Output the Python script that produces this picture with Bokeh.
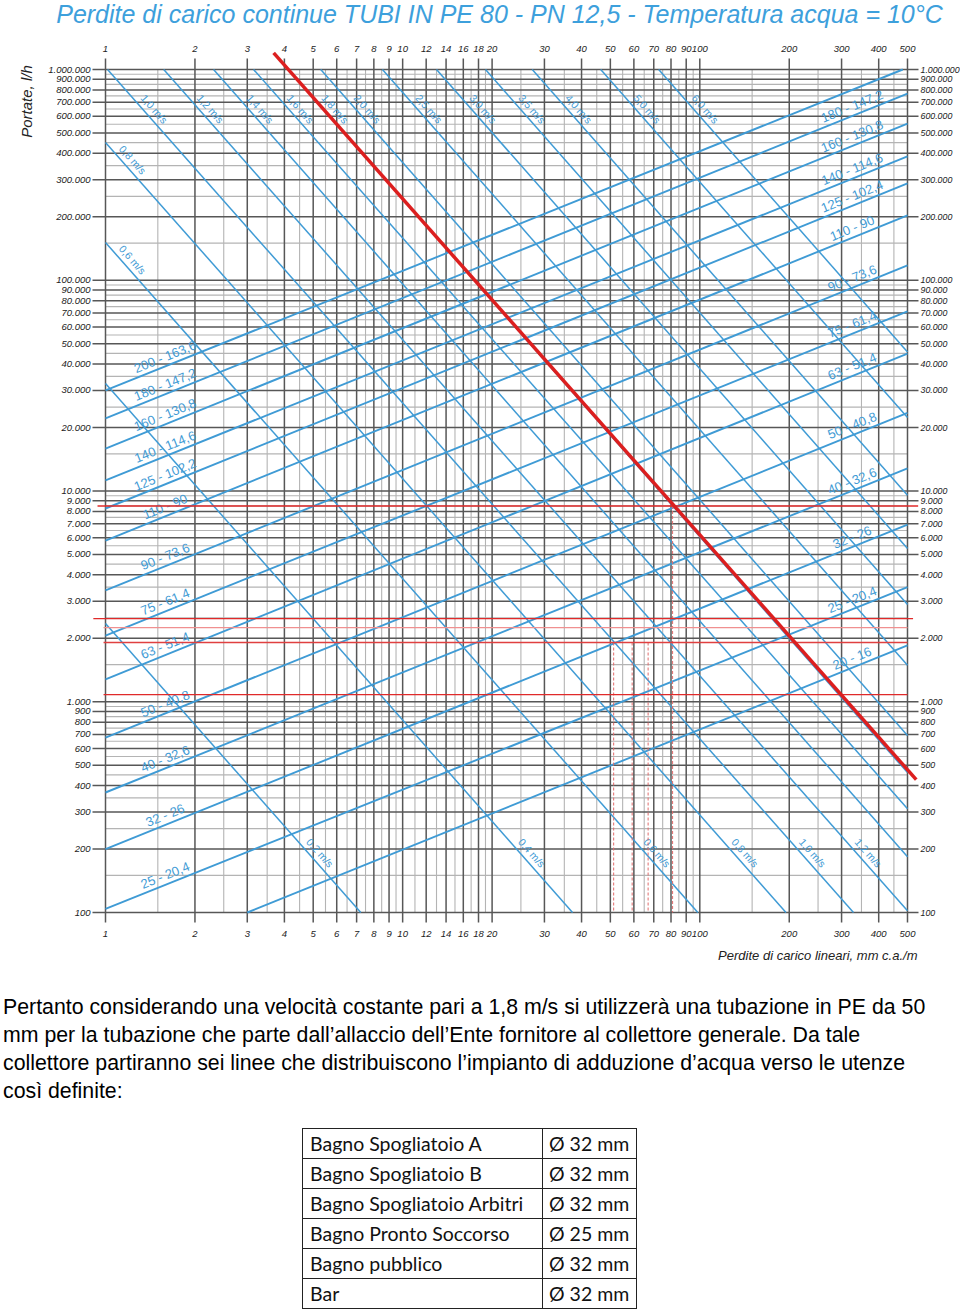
import math
from bokeh.plotting import figure
from bokeh.models import Range1d, Div
from bokeh.layouts import column
from bokeh.core.properties import value
from bokeh.embed import file_html
from bokeh.resources import INLINE

# ---------------- texts ----------------
TITLE = "Perdite di carico continue TUBI IN PE 80 - PN 12,5 - Temperatura acqua = 10°C"
Y_TITLE = "Portate, l/h"
X_TITLE = "Perdite di carico lineari, mm c.a./m"

# ---------------- axes / ticks ----------------
x_major = [1, 2, 3, 4, 5, 6, 7, 8, 9, 10, 12, 14, 16, 18, 20, 30, 40, 50, 60, 70, 80, 90, 100, 200, 300, 400, 500]
x_minor = [1.5, 2.5, 3.5, 4.5, 5.5, 6.5, 7.5, 8.5, 9.5, 11, 13, 15, 17, 19, 25, 35, 45, 55, 65, 75, 85, 95,
           150, 250, 350, 450]
x_labels = [str(v) for v in x_major]
y_major = [k * 10 ** e for e in (2, 3, 4, 5) for k in range(1, 10)] + [1000000]
y_minor = [k * 10 ** e + 10 ** e // 2 for e in (2, 3, 4, 5) for k in range(1, 10)]
y_labels = [f"{int(v):,}".replace(",", ".") for v in y_major]

# ---------------- pipe diameter lines (rising) ----------------
diam_J0 = [3, 1, 1, 1, 1, 1, 1, 1, 1, 1, 1, 1, 1, 1]
diam_Q0 = [100, 104, 200, 371, 676, 1276, 2060, 3375, 5820, 8260, 11220, 15900, 22100, 30000]
diam_J1 = [500, 500, 500, 500, 500, 500, 500, 500, 500, 500, 500, 500, 500, 482]
diam_Q1 = [1850, 3500, 6930, 12800, 23500, 44900, 71100, 117500, 203000, 288000, 387000, 554000, 769000, 1000000]
diam_left_labels = [None, "25 - 20,4", "32 - 26", "40 - 32,6", "50 - 40,8", "63 - 51,4", "75 - 61,4",
                    "90 - 73,6", "110 - 90", "125 - 102,2", "140 - 114,6", "160 - 130,8", "180 - 147,2",
                    "200 - 163,6"]
diam_right_labels = ["20 - 16", "25 - 20,4", "32 - 26", "40 - 32,6", "50 - 40,8", "63 - 51,4", "75 - 61,4",
                     "90 - 73,6", "110 - 90", "125 - 102,4", "140 - 114,6", "160 - 130,8", "180 - 147,2", None]

# ---------------- velocity lines (falling) ----------------
vel_names = ["0,2", "0,4", "0,6", "0,8", "1,0", "1,2", "1,4", "1,6", "1,8", "2,0", "2,5", "3,0", "3,5",
             "4,0", "5,0", "6,0"]
vel_J0 = [1, 1, 1, 1, 1.016, 1.57, 2.31, 3.15, 4.13, 5.3, 8.55, 13.0, 19.0, 27.3, 46.4, 72.7]
vel_Q0 = [2350, 32400, 151000, 451000, 1e6, 1e6, 1e6, 1e6, 1e6, 1e6, 1e6, 1e6, 1e6, 1e6, 1e6, 1e6]
vel_J1 = [7.23, 37.3, 98.5, 195, 329, 500, 500, 500, 500, 500, 500, 500, 500, 500, 500, 500]
vel_Q1 = [100, 100, 100, 100, 100, 102, 184, 311, 461, 692, 1490, 2890, 5340, 9550, 22300, 45700]
# labels: (line index, flow level where the label sits on the line)
vel_lab_idx = [4, 5, 6, 7, 8, 9, 10, 11, 12, 13, 14, 15, 3, 2, 0, 1, 2, 3, 4, 5]
vel_lab_Q = [610000] * 12 + [350000, 117500] + [180] * 6

# ---------------- red highlights ----------------
red_J = [3.68, 535]
red_Q = [1.2e6, 427]
redh_Q = [8490, 2480, 2250, 1910, 1080]
redh_J0 = [0.94, 0.91, 0.985, 0.985, 0.985]
redh_J1 = [543, 522, 500, 500, 500]
redh_col = ["#e02a2a", "#e02a2a", "#f09090", "#e04040", "#e02a2a"]
redv_J = [51.3, 59.2, 67.0, 81.0]
redv_Qtop = [1910, 1910, 1910, 8490]

# ---------------- text below ----------------
para_lines = [
    "Pertanto considerando una velocità costante pari a 1,8 m/s si utilizzerà una tubazione in PE da 50",
    "mm per la tubazione che parte dall’allaccio dell’Ente fornitore al collettore generale. Da tale",
    "collettore partiranno sei linee che distribuiscono l’impianto di adduzione d’acqua verso le utenze",
    "così definite:",
]
table_names = ["Bagno Spogliatoio A", "Bagno Spogliatoio B", "Bagno Spogliatoio Arbitri",
               "Bagno Pronto Soccorso", "Bagno pubblico", "Bar"]
table_diam = [32, 32, 32, 25, 32, 32]

# ================= layout constants =================
W, H = 960, 985
X0, KX = 105.0, 297.15   # px of J=1, px per decade
Y0, KY = 912.0, 210.75   # px of Q=100, px per decade
FONT = "Liberation Sans"
BLUE = "#3f9bd5"
DARK = "#575757"
LIGHT = "#b4b4b4"


def jx(px):
    return 10 ** ((px - X0) / KX)


def qy(py):
    return 10 ** (2 + (Y0 - py) / KY)


def pxj(J):
    return X0 + KX * math.log10(J)


def pyq(Q):
    return Y0 - KY * (math.log10(Q) - 2)


p = figure(width=W, height=H, x_axis_type="log", y_axis_type="log",
           x_range=Range1d(jx(0), jx(W)), y_range=Range1d(qy(H), qy(0)),
           x_axis_location=None, y_axis_location=None, title=None,
           output_backend="svg", toolbar_location=None, min_border=0)
p.outline_line_color = None
p.background_fill_color = "white"
p.border_fill_color = "white"
p.xgrid.visible = False
p.ygrid.visible = False

Jmin, Jmax, Qmin, Qmax = 1, 500, 100, 1000000

# grid minor
p.segment(x0=x_minor, y0=[Qmin] * len(x_minor), x1=x_minor, y1=[Qmax] * len(x_minor),
          line_color=LIGHT, line_width=1.1)
p.segment(x0=[Jmin] * len(y_minor), y0=y_minor, x1=[Jmax] * len(y_minor), y1=y_minor,
          line_color=LIGHT, line_width=1.1)
# grid major (extending as ticks)
qt, qb = qy(pyq(Qmax) - 11), qy(pyq(Qmin) + 10)
jl, jr = jx(pxj(Jmin) - 13), jx(pxj(Jmax) + 11)
p.segment(x0=x_major, y0=[qb] * len(x_major), x1=x_major, y1=[qt] * len(x_major),
          line_color=DARK, line_width=1.5)
p.segment(x0=[jl] * len(y_major), y0=y_major, x1=[jr] * len(y_major), y1=y_major,
          line_color=DARK, line_width=1.5)

# tick labels
tick_style = dict(text_font=value(FONT), text_font_style="italic",
                  text_color="#222222", text_baseline="middle")
p.text(x=x_major, y=[qy(pyq(Qmax) - 21)] * len(x_major), text=x_labels, text_align="center",
       text_font_size=value("9.5px"), **tick_style)
p.text(x=x_major, y=[qy(pyq(Qmin) + 21)] * len(x_major), text=x_labels, text_align="center",
       text_font_size=value("9.5px"), **tick_style)
p.text(x=[jx(pxj(Jmin) - 15)] * len(y_major), y=y_major, text=y_labels, text_align="right",
       text_font_size=value("9.5px"), **tick_style)
p.text(x=[jx(pxj(Jmax) + 13)] * len(y_major), y=y_major, text=y_labels, text_align="left",
       text_font_size=value("8.8px"), **tick_style)

# blue lines
p.segment(x0=diam_J0, y0=diam_Q0, x1=diam_J1, y1=diam_Q1, line_color=BLUE, line_width=1.9)
p.segment(x0=vel_J0, y0=vel_Q0, x1=vel_J1, y1=vel_Q1, line_color=BLUE, line_width=1.5)


def label_pos(J0, Q0, J1, Q1, J=None, Q=None, off=9.0):
    x0, y0, x1, y1 = pxj(J0), pyq(Q0), pxj(J1), pyq(Q1)
    L = math.hypot(x1 - x0, y1 - y0)
    dx, dy = (x1 - x0) / L, (y1 - y0) / L
    if J is not None:
        px = pxj(J)
        py = y0 + (px - x0) * (y1 - y0) / (x1 - x0)
    else:
        py = pyq(Q)
        px = x0 + (py - y0) * (x1 - x0) / (y1 - y0)
    cx, cy = px + off * dy, py - off * dx
    return jx(cx), qy(cy), -math.atan2(y1 - y0, x1 - x0)


lab_x, lab_y, lab_a, lab_t = [], [], [], []
for i in range(len(diam_J0)):
    for txt, jpos in ((diam_left_labels[i], jx(168)), (diam_right_labels[i], jx(855))):
        if txt is None:
            continue
        x, y, a = label_pos(diam_J0[i], diam_Q0[i], diam_J1[i], diam_Q1[i], J=jpos)
        lab_x.append(x); lab_y.append(y); lab_a.append(a); lab_t.append(txt)
p.text(x=lab_x, y=lab_y, angle=lab_a, text=lab_t, text_font=value(FONT), text_font_size=value("13px"),
       text_color=BLUE, text_align="center", text_baseline="middle")

vx, vy, va, vt = [], [], [], []
for i, q in zip(vel_lab_idx, vel_lab_Q):
    x, y, a = label_pos(vel_J0[i], vel_Q0[i], vel_J1[i], vel_Q1[i], Q=q)
    vx.append(x); vy.append(y); va.append(a); vt.append(vel_names[i] + " m/s")
p.text(x=vx, y=vy, angle=va, text=vt, text_font=value(FONT), text_font_size=value("10.5px"),
       text_color=BLUE, text_align="center", text_baseline="middle")

# red highlights
p.segment(x0=redv_J, y0=redv_Qtop, x1=redv_J, y1=[Qmin] * len(redv_J), line_color="#e06a6a",
          line_width=1, line_dash="3 2")
p.segment(x0=redh_J0, y0=redh_Q, x1=redh_J1, y1=redh_Q, line_color=redh_col, line_width=1.3)
p.line(x=red_J, y=red_Q, line_color="#dc1f1f", line_width=3.5)

# titles
p.text(x=[jx(499)], y=[qy(13)], text=[TITLE], text_font=value(FONT), text_font_size=value("25px"),
       text_font_style="italic", text_color="#3da0dc", text_align="center", text_baseline="middle")
p.text(x=[jx(26)], y=[qy(101)], text=[Y_TITLE], angle=math.pi / 2, text_font=value(FONT),
       text_font_size=value("15px"), text_font_style="italic", text_color="#222222",
       text_align="center", text_baseline="middle")
p.text(x=[jx(917)], y=[qy(955)], text=[X_TITLE], text_font=value(FONT), text_font_size=value("13px"),
       text_font_style="italic", text_color="#222222", text_align="right", text_baseline="middle")

# paragraph
para_html = ('<div style="position:relative; left:3px; margin-top:8px; font-family:\'Liberation Sans\', Arial, '
             'sans-serif; font-size:21.3px; line-height:28px; color:#000; white-space:nowrap;">'
             + "<br>".join(para_lines) + "</div>")
para = Div(text=para_html, width=W, height=135, margin=0)

rows = ""
for name, d in zip(table_names, table_diam):
    rows += ('<tr style="height:30px;"><td style="border:1.5px solid #222; padding:0 0 0 7px;">' + name +
             '</td><td style="border:1.5px solid #222; padding:0 0 0 6px;">Ø ' + str(d) + ' mm</td></tr>')
table_html = ('<table style="position:relative; left:302px; margin-top:8px; border-collapse:collapse; '
              'table-layout:fixed; width:334px; font-family:Lato, \'Open Sans\', sans-serif; font-size:19.5px; '
              'color:#111;"><col style="width:240px"><col style="width:94px">' + rows + '</table>')
table = Div(text=table_html, width=W, height=185, margin=0)

root = column(p, para, table)
open("out.html", "w").write(file_html(root, INLINE))
